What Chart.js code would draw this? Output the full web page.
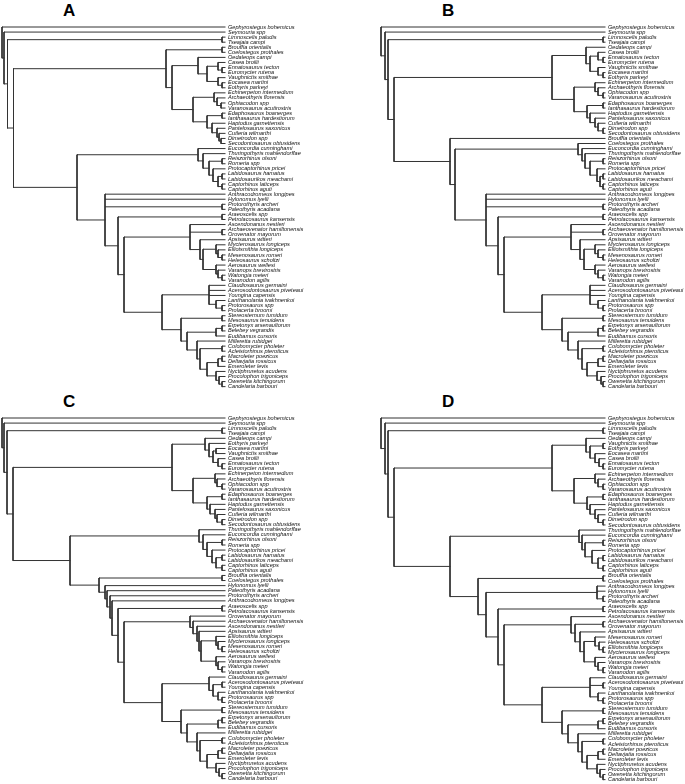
<!DOCTYPE html>
<html>
<head>
<meta charset="utf-8">
<script src="https://cdn.jsdelivr.net/npm/chart.js@4.4.1/dist/chart.umd.min.js"></script>
<style>
  body { margin: 0; background: #fff; }
  #page { position: relative; width: 685px; height: 784px; overflow: hidden; }
  canvas { position: absolute; }
  .tag { position: absolute; font: bold 17px "Liberation Sans", Arial, sans-serif; line-height: 1; color: #000; }
</style>
</head>
<body>
<div id="page">
  <div class="tag" style="left:63px;top:2px">A</div>
  <div class="tag" style="left:442px;top:2px">B</div>
  <div class="tag" style="left:63px;top:393px">C</div>
  <div class="tag" style="left:442px;top:393px">D</div>
  <canvas id="treeA" width="340" height="393" style="left:0;top:0"></canvas>
  <canvas id="treeB" width="306" height="393" style="left:379px;top:0"></canvas>
  <canvas id="treeC" width="340" height="394" style="left:0;top:391px"></canvas>
  <canvas id="treeD" width="306" height="395" style="left:379px;top:391px"></canvas>
</div>
<script>
// Taxa, top to bottom, for each panel
const taxaA = [
  'Gephyrostegus bohemicus', 'Seymouria spp', 'Limnoscelis paludis', 'Tseajaia campi',
  'Brouffia orientalis', 'Coelostegus prothales', 'Oedaleops campi', 'Casea broilii',
  'Ennatosaurus tecton', 'Euromycter rutena', 'Vaughnictis smithae', 'Eocasea martini',
  'Eothyris parkeyi', 'Echinerpeton intermedium', 'Archaeothyris florensis', 'Ophiacodon spp',
  'Varanosaurus acutirostris', 'Edaphosaurus boanerges', 'Ianthasaurus hardestiorum', 'Haptodus garnettensis',
  'Pantelosaurus saxonicus', 'Cutleria wilmarthi', 'Dimetrodon spp', 'Secodontosaurus obtusidens',
  'Euconcordia cunninghami', 'Thuringothyris mahlendorffae', 'Reiszorhinus olsoni', 'Romeria spp',
  'Protocaptorhinus pricei', 'Labidosaurus hamatus', 'Labidosaurikos meachami', 'Captorhinus laticeps',
  'Captorhinus aguti', 'Anthracodromeus longipes', 'Hylonomus lyelli', 'Protorothyris archeri',
  'Paleothyris acadiana', 'Araeoscelis spp', 'Petrolacosaurus kansensis', 'Ascendonanus nestleri',
  'Archaeovenator hamiltonensis', 'Orovenator mayorum', 'Apsisaurus witteri', 'Mycterosaurus longiceps',
  'Elliotsmithia longiceps', 'Mesenosaurus romeri', 'Heleosaurus scholtzi', 'Aerosaurus wellesi',
  'Varanops brevirostris', 'Watongia meieri', 'Varanodon agilis', 'Claudiosaurus germaini',
  'Acerosodontosaurus piveteaui', 'Youngina capensis', 'Lanthanolania ivakhnenkoi', 'Protorosaurus spp',
  'Prolacerta broomi', 'Stereosternum tumidum', 'Mesosaurus tenuidens', 'Erpetonyx arsenaultorum',
  'Belebey vegrandis', 'Eudibamus cursoris', 'Milleretta rubidgei', 'Colobomycter pholeter',
  'Acleistorhinus pteroticus', 'Macroleter poezicus', 'Deltavjatia rossicus', 'Emeroleter levis',
  'Nyctiphruretus acudens', 'Procolophon trigoniceps', 'Owenetta kitchingorum', 'Candelaria barbouri'
];

const taxaB = [
  'Gephyrostegus bohemicus', 'Seymouria spp', 'Limnoscelis paludis', 'Tseajaia campi',
  'Oedaleops campi', 'Casea broilii', 'Ennatosaurus tecton', 'Euromycter rutena',
  'Vaughnictis smithae', 'Eocasea martini', 'Eothyris parkeyi', 'Echinerpeton intermedium',
  'Archaeothyris florensis', 'Ophiacodon spp', 'Varanosaurus acutirostris', 'Edaphosaurus boanerges',
  'Ianthasaurus hardestiorum', 'Haptodus garnettensis', 'Pantelosaurus saxonicus', 'Cutleria wilmarthi',
  'Dimetrodon spp', 'Secodontosaurus obtusidens', 'Brouffia orientalis', 'Coelostegus prothales',
  'Euconcordia cunninghami', 'Thuringothyris mahlendorffae', 'Reiszorhinus olsoni', 'Romeria spp',
  'Protocaptorhinus pricei', 'Labidosaurus hamatus', 'Labidosaurikos meachami', 'Captorhinus laticeps',
  'Captorhinus aguti', 'Anthracodromeus longipes', 'Hylonomus lyelli', 'Protorothyris archeri',
  'Paleothyris acadiana', 'Araeoscelis spp', 'Petrolacosaurus kansensis', 'Ascendonanus nestleri',
  'Archaeovenator hamiltonensis', 'Orovenator mayorum', 'Apsisaurus witteri', 'Mycterosaurus longiceps',
  'Elliotsmithia longiceps', 'Mesenosaurus romeri', 'Heleosaurus scholtzi', 'Aerosaurus wellesi',
  'Varanops brevirostris', 'Watongia meieri', 'Varanodon agilis', 'Claudiosaurus germaini',
  'Acerosodontosaurus piveteaui', 'Youngina capensis', 'Lanthanolania ivakhnenkoi', 'Protorosaurus spp',
  'Prolacerta broomi', 'Stereosternum tumidum', 'Mesosaurus tenuidens', 'Erpetonyx arsenaultorum',
  'Belebey vegrandis', 'Eudibamus cursoris', 'Milleretta rubidgei', 'Colobomycter pholeter',
  'Acleistorhinus pteroticus', 'Macroleter poezicus', 'Deltavjatia rossicus', 'Emeroleter levis',
  'Nyctiphruretus acudens', 'Procolophon trigoniceps', 'Owenetta kitchingorum', 'Candelaria barbouri'
];

const taxaC = [
  'Gephyrostegus bohemicus', 'Seymouria spp', 'Limnoscelis paludis', 'Tseajaia campi',
  'Oedaleops campi', 'Eothyris parkeyi', 'Eocasea martini', 'Vaughnictis smithae',
  'Casea broilii', 'Ennatosaurus tecton', 'Euromycter rutena', 'Echinerpeton intermedium',
  'Archaeothyris florensis', 'Ophiacodon spp', 'Varanosaurus acutirostris', 'Edaphosaurus boanerges',
  'Ianthasaurus hardestiorum', 'Haptodus garnettensis', 'Pantelosaurus saxonicus', 'Cutleria wilmarthi',
  'Dimetrodon spp', 'Secodontosaurus obtusidens', 'Thuringothyris mahlendorffae', 'Euconcordia cunninghami',
  'Reiszorhinus olsoni', 'Romeria spp', 'Protocaptorhinus pricei', 'Labidosaurus hamatus',
  'Labidosaurikos meachami', 'Captorhinus laticeps', 'Captorhinus aguti', 'Brouffia orientalis',
  'Coelostegus prothales', 'Hylonomus lyelli', 'Paleothyris acadiana', 'Protorothyris archeri',
  'Anthracodromeus longipes', 'Araeoscelis spp', 'Petrolacosaurus kansensis', 'Orovenator mayorum',
  'Archaeovenator hamiltonensis', 'Ascendonanus nestleri', 'Apsisaurus witteri', 'Elliotsmithia longiceps',
  'Mycterosaurus longiceps', 'Mesenosaurus romeri', 'Heleosaurus scholtzi', 'Aerosaurus wellesi',
  'Varanops brevirostris', 'Watongia meieri', 'Varanodon agilis', 'Claudiosaurus germaini',
  'Acerosodontosaurus piveteaui', 'Youngina capensis', 'Lanthanolania ivakhnenkoi', 'Protorosaurus spp',
  'Prolacerta broomi', 'Stereosternum tumidum', 'Mesosaurus tenuidens', 'Erpetonyx arsenaultorum',
  'Belebey vegrandis', 'Eudibamus cursoris', 'Milleretta rubidgei', 'Colobomycter pholeter',
  'Acleistorhinus pteroticus', 'Macroleter poezicus', 'Deltavjatia rossicus', 'Emeroleter levis',
  'Nyctiphruretus acudens', 'Procolophon trigoniceps', 'Owenetta kitchingorum', 'Candelaria barbouri'
];

const taxaD = [
  'Gephyrostegus bohemicus', 'Seymouria spp', 'Limnoscelis paludis', 'Tseajaia campi',
  'Oedaleops campi', 'Vaughnictis smithae', 'Eothyris parkeyi', 'Eocasea martini',
  'Casea broilii', 'Ennatosaurus tecton', 'Euromycter rutena', 'Echinerpeton intermedium',
  'Archaeothyris florensis', 'Ophiacodon spp', 'Varanosaurus acutirostris', 'Edaphosaurus boanerges',
  'Ianthasaurus hardestiorum', 'Haptodus garnettensis', 'Pantelosaurus saxonicus', 'Cutleria wilmarthi',
  'Dimetrodon spp', 'Secodontosaurus obtusidens', 'Thuringothyris mahlendorffae', 'Euconcordia cunninghami',
  'Reiszorhinus olsoni', 'Romeria spp', 'Protocaptorhinus pricei', 'Labidosaurus hamatus',
  'Labidosaurikos meachami', 'Captorhinus laticeps', 'Captorhinus aguti', 'Brouffia orientalis',
  'Coelostegus prothales', 'Anthracodromeus longipes', 'Hylonomus lyelli', 'Protorothyris archeri',
  'Paleothyris acadiana', 'Araeoscelis spp', 'Petrolacosaurus kansensis', 'Ascendonanus nestleri',
  'Archaeovenator hamiltonensis', 'Orovenator mayorum', 'Apsisaurus witteri', 'Mesenosaurus romeri',
  'Heleosaurus scholtzi', 'Elliotsmithia longiceps', 'Mycterosaurus longiceps', 'Aerosaurus wellesi',
  'Varanops brevirostris', 'Watongia meieri', 'Varanodon agilis', 'Claudiosaurus germaini',
  'Acerosodontosaurus piveteaui', 'Youngina capensis', 'Lanthanolania ivakhnenkoi', 'Protorosaurus spp',
  'Prolacerta broomi', 'Stereosternum tumidum', 'Mesosaurus tenuidens', 'Erpetonyx arsenaultorum',
  'Belebey vegrandis', 'Eudibamus cursoris', 'Milleretta rubidgei', 'Colobomycter pholeter',
  'Acleistorhinus pteroticus', 'Macroleter poezicus', 'Deltavjatia rossicus', 'Emeroleter levis',
  'Nyctiphruretus acudens', 'Procolophon trigoniceps', 'Owenetta kitchingorum', 'Candelaria barbouri'
];

// Node tables: [id, depth, children...]. A number is a tip (1-based row in the taxa list),
// a string is another node, a short array [depth, tip, tip] is a tip pair.
const treeA = [
  ['root', 0, 1, 'n1'],
  ['n1', 2, 2, 'n2'],
  ['n2', 5.5, [220, 3, 4], 'n3'],
  ['n3', 11.5, 'syn', 'rep'],
  ['syn', 164, [220, 5, 6], 'syn2'],
  ['syn2', 170, 'cas', 'eup'],
  ['cas', 196, 7, 'cas2'],
  ['cas2', 205, 'cas3', 'cas4'],
  ['cas3', 216, 8, [220, 9, 10]],
  ['cas4', 216, 11, [220, 12, 13]],
  ['eup', 191, 'oph', 'sph'],
  ['oph', 212, 14, 'oph2'],
  ['oph2', 215, 15, [219, 16, 17]],
  ['sph', 205, [220, 18, 19], 'sph2'],
  ['sph2', 210, 20, 'sph3'],
  ['sph3', 215, 21, 'sph4'],
  ['sph4', 217, 22, [219, 23, 24]],
  ['rep', 75, 'cap', 'r2'],
  ['cap', 196, 25, 'cap2'],
  ['cap2', 201, 26, 'cap3'],
  ['cap3', 207, [220, 27, 28], 'cap4'],
  ['cap4', 211, 29, 'cap5'],
  ['cap5', 216, [220, 30, 31], [220, 32, 33]],
  ['r2', 103, 34, 35, [220, 36, 37], 'dia'],
  ['dia', 116, [220, 38, 39], 'v'],
  ['v', 122, 'var', 'sau'],
  ['var', 188, 40, [220, 41, 42], 'var2'],
  ['var2', 198, 43, 'var3'],
  ['var3', 201, 'myc', 'vpn'],
  ['myc', 214, 44, 'myc2'],
  ['myc2', 216, 45, [220, 46, 47]],
  ['vpn', 214, 48, 'vpn2'],
  ['vpn2', 216, 49, [220, 50, 51]],
  ['sau', 160, 'arc', 'par'],
  ['arc', 207, 52, 53, 54, 'arc2'],
  ['arc2', 214, 55, [220, 56, 57]],
  ['par', 179, [220, 58, 59], 'par2'],
  ['par2', 185, 'bol', 'par3'],
  ['bol', 214, [220, 60, 61], 62],
  ['par3', 195, 63, 'par4'],
  ['par4', 198, [220, 64, 65], 'par5'],
  ['par5', 205, 'pre', 'pro'],
  ['pre', 216, [220, 66, 67], 68],
  ['pro', 214, 69, 'pro2'],
  ['pro2', 217, 70, [220, 71, 72]]
];

const treeB = [
  ['root', 0, 1, 'n1'],
  ['n1', 4, 2, 'n2'],
  ['n2', 7, [222, 3, 4], 'n3'],
  ['n3', 13, 'syn', 'rep'],
  ['syn', 171, 'cas', 'eup'],
  ['cas', 205, 5, 'cas2'],
  ['cas2', 209, 'cas3', 'cas4'],
  ['cas3', 217, 6, [222, 7, 8]],
  ['cas4', 217, 9, [222, 10, 11]],
  ['eup', 193, 'oph', 'sph'],
  ['oph', 214, 12, 'oph2'],
  ['oph2', 217, 13, [222, 14, 15]],
  ['sph', 206, [222, 16, 17], 'sph2'],
  ['sph2', 209, 18, 'sph3'],
  ['sph3', 214, 19, 'sph4'],
  ['sph4', 217, 20, [222, 21, 22]],
  ['rep', 69, 23, 'r1'],
  ['r1', 74, 'cap', 'r2'],
  ['cap', 197, 24, 'cap1'],
  ['cap1', 201, 25, 'cap2'],
  ['cap2', 204, 26, 'cap3'],
  ['cap3', 209, [222, 27, 28], 'cap4'],
  ['cap4', 216, 29, 'cap5'],
  ['cap5', 219, [222, 30, 31], [222, 32, 33]],
  ['r2', 105, 34, 35, [222, 36, 37], 'dia'],
  ['dia', 117, [222, 38, 39], 'v'],
  ['v', 123, 'var', 'sau'],
  ['var', 190, 40, [222, 41, 42], 'var2'],
  ['var2', 199, 43, 'var3'],
  ['var3', 203, 'myc', 'vpn'],
  ['myc', 214, 44, 'myc2'],
  ['myc2', 217, 45, [222, 46, 47]],
  ['vpn', 214, 48, 'vpn2'],
  ['vpn2', 217, 49, [222, 50, 51]],
  ['sau', 161, 'arc', 'par'],
  ['arc', 209, 52, 53, 54, 'arc2'],
  ['arc2', 217, 55, [222, 56, 57]],
  ['par', 181, [222, 58, 59], 'par2'],
  ['par2', 187, 'bol', 'par3'],
  ['bol', 217, [222, 60, 61], 62],
  ['par3', 197, 63, 'par4'],
  ['par4', 201, [222, 64, 65], 'par5'],
  ['par5', 206, 'pre', 'pro'],
  ['pre', 217, [222, 66, 67], 68],
  ['pro', 216, 69, 'pro2'],
  ['pro2', 220, 70, [222, 71, 72]]
];

const treeC = [
  ['root', 0, 1, 'n1'],
  ['n1', 2, 2, 'n2'],
  ['n2', 5, [220, 3, 4], 'n3'],
  ['n3', 11, 'syn', 'rep'],
  ['syn', 170, 'cas', 'eup'],
  ['cas', 203, 5, 'cas2'],
  ['cas2', 207, 6, 'cas3'],
  ['cas3', 211, [214, 7, 8], 'cas4'],
  ['cas4', 216, 9, [220, 10, 11]],
  ['eup', 191, 'oph', 'sph'],
  ['oph', 213, 12, 'oph2'],
  ['oph2', 215, 13, [220, 14, 15]],
  ['sph', 205, [220, 16, 17], 'sph2'],
  ['sph2', 208, 18, 'sph3'],
  ['sph3', 213, 19, 'sph4'],
  ['sph4', 215, 20, [220, 21, 22]],
  ['rep', 68, 'cap', 'r1'],
  ['cap', 197, 23, 'cap1'],
  ['cap1', 201, 24, 'cap2'],
  ['cap2', 205, [220, 25, 26], 'cap3'],
  ['cap3', 210, 27, 'cap4'],
  ['cap4', 214, [220, 28, 29], [220, 30, 31]],
  ['r1', 97, [220, 32, 33], 'r2'],
  ['r2', 103, 34, 'r3'],
  ['r3', 105, 35, 'r4'],
  ['r4', 108, 36, 'r5'],
  ['r5', 110, 37, 'dia'],
  ['dia', 116, [220, 38, 39], 'v'],
  ['v', 122, 'var', 'sau'],
  ['var', 188, 40, 'var1'],
  ['var1', 191, 41, 'var2'],
  ['var2', 195, 42, 'var3'],
  ['var3', 197, 43, 'var4'],
  ['var4', 199, 'myc', 'vpn'],
  ['myc', 214, 44, 'myc2'],
  ['myc2', 216, 45, [220, 46, 47]],
  ['vpn', 214, 48, 'vpn2'],
  ['vpn2', 216, 49, [220, 50, 51]],
  ['sau', 160, 'arc', 'par'],
  ['arc', 207, 52, 'arc1'],
  ['arc1', 211, [220, 53, 54], 'arc2'],
  ['arc2', 216, 55, [220, 56, 57]],
  ['par', 179, [220, 58, 59], 'par2'],
  ['par2', 185, 'bol', 'par3'],
  ['bol', 216, [220, 60, 61], 62],
  ['par3', 195, 63, 'par4'],
  ['par4', 198, [220, 64, 65], 'par5'],
  ['par5', 205, 'pre', 'pro'],
  ['pre', 216, [220, 66, 67], 68],
  ['pro', 214, 69, 'pro2'],
  ['pro2', 217, 70, [220, 71, 72]]
];

const treeD = [
  ['root', 0, 1, 'n1'],
  ['n1', 4, 2, 'n2'],
  ['n2', 7, [222, 3, 4], 'n3'],
  ['n3', 13, 'syn', 'rep'],
  ['syn', 171, 'cas', 'eup'],
  ['cas', 205, 5, 'cas2'],
  ['cas2', 209, [222, 6, 7], 'cas3'],
  ['cas3', 214, 8, 'cas4'],
  ['cas4', 218, 9, [222, 10, 11]],
  ['eup', 193, 'oph', 'sph'],
  ['oph', 214, 12, 'oph2'],
  ['oph2', 217, 13, [222, 14, 15]],
  ['sph', 206, [222, 16, 17], 'sph2'],
  ['sph2', 209, 18, 'sph3'],
  ['sph3', 214, 19, 'sph4'],
  ['sph4', 217, 20, [222, 21, 22]],
  ['rep', 69, 'cap', 'r1'],
  ['cap', 198, 23, 'cap1'],
  ['cap1', 201, 24, 'cap2'],
  ['cap2', 204, [222, 25, 26], 'cap3'],
  ['cap3', 211, 27, 'cap4'],
  ['cap4', 217, [222, 28, 29], [222, 30, 31]],
  ['r1', 97, [222, 32, 33], 'r2'],
  ['r2', 105, 'amn', 'dia'],
  ['amn', 216, 34, 35, [222, 36, 37]],
  ['dia', 117, [222, 38, 39], 'v'],
  ['v', 123, 'var', 'sau'],
  ['var', 190, 40, 'var1'],
  ['var1', 194, [222, 41, 42], 'var2'],
  ['var2', 199, 43, 'var3'],
  ['var3', 203, 'myc', 'vpn'],
  ['myc', 214, 44, 'myc2'],
  ['myc2', 218, 45, [222, 46, 47]],
  ['vpn', 214, 48, 'vpn2'],
  ['vpn2', 217, 49, [222, 50, 51]],
  ['sau', 161, 'arc', 'par'],
  ['arc', 209, 52, [222, 53, 54], 'arc2'],
  ['arc2', 217, 55, [222, 56, 57]],
  ['par', 181, [222, 58, 59], 'par2'],
  ['par2', 187, 'bol', 'par3'],
  ['bol', 217, [222, 60, 61], 62],
  ['par3', 197, 63, 'par4'],
  ['par4', 201, [222, 64, 65], 'par5'],
  ['par5', 206, 'pre', 'pro'],
  ['pre', 217, [222, 66, 67], 68],
  ['pro', 216, 69, 'pro2'],
  ['pro2', 219, 70, [222, 71, 72]]
];

// walk the node table, push elbow segments (NaN breaks the line between them)
function branchPoints(rows, tipX) {
  const byId = {};
  rows.forEach(r => { byId[r[0]] = r.slice(1); });
  const pts = [], tips = [];
  function walk(node) {
    if (typeof node === 'number') { tips.push(node); return { x: tipX, y: node }; }
    const row = typeof node === 'string' ? byId[node] : node;
    const x = row[0];
    const ys = row.slice(1).map(child => {
      const c = walk(child);
      pts.push({ x: x, y: c.y }, { x: c.x, y: c.y }, { x: NaN, y: NaN });
      return c.y;
    });
    const top = ys[0], bottom = ys[ys.length - 1];
    pts.push({ x: x, y: top }, { x: x, y: bottom }, { x: NaN, y: NaN });
    return { x: x, y: (top + bottom) / 2 };
  }
  walk(rows[0][0]);
  return { pts, tips };
}

function makeTree(id, taxa, rows, tipX, axisWidth, padBottom) {
  const { pts, tips } = branchPoints(rows, tipX);
  if (tips.length !== taxa.length || tips.some((t, i) => t !== i + 1)) {
    throw new Error(id + ': tip order broken ' + tips.join(','));
  }
  return new Chart(document.getElementById(id), {
    type: 'scatter',
    data: {
      datasets: [{
        data: pts,
        showLine: true,
        spanGaps: false,
        borderColor: '#333',
        borderWidth: 1,
        borderCapStyle: 'square',
        pointRadius: 0,
        clip: false
      }]
    },
    options: {
      responsive: false,
      animation: false,
      layout: { padding: { left: 2, top: 27, right: 0, bottom: padBottom } },
      plugins: { legend: { display: false }, tooltip: { enabled: false } },
      scales: {
        x: { type: 'linear', min: 0, max: tipX, display: false },
        y: {
          type: 'linear',
          position: 'right',
          reverse: true,
          min: 1,
          max: taxa.length,
          afterFit: function(scale) { scale.width = axisWidth; },
          grid: { display: false, drawTicks: false },
          border: { display: false },
          ticks: {
            stepSize: 1,
            autoSkip: false,
            padding: 3,
            color: '#111',
            font: { family: '"Liberation Sans", Arial, sans-serif', size: 5.6, style: 'italic' },
            callback: function(value) { return taxa[Math.round(value) - 1]; }
          }
        }
      }
    }
  });
}

makeTree('treeA', taxaA, treeA, 223, 115, 4);
makeTree('treeB', taxaB, treeB, 224, 80, 4);
makeTree('treeC', taxaC, treeC, 223, 115, 4);
makeTree('treeD', taxaD, treeD, 224, 80, 4);
</script>
</body>
</html>
